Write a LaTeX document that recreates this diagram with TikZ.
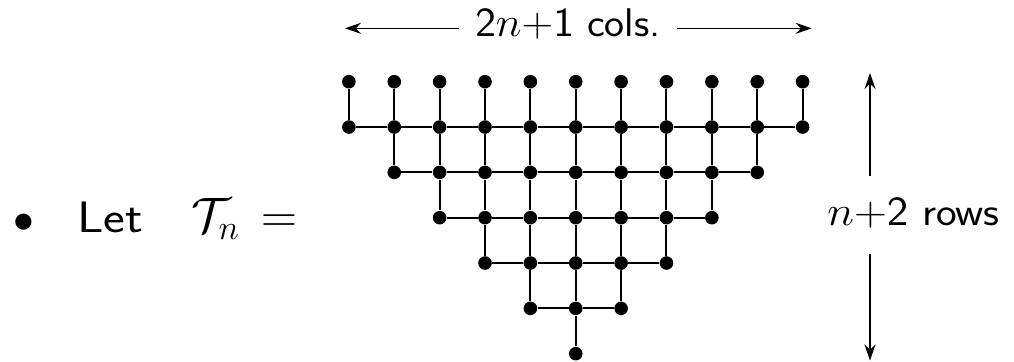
\documentclass[tikz,border=0pt]{standalone}
\usepackage{tikz}
\usetikzlibrary{arrows.meta}
\usetikzlibrary{math}
\usetikzlibrary{calc}

\newcommand{\wider}[2]{\scalebox{#1}[1]{#2}}

\tikzset{
  vtx/.style={circle, fill=black, inner sep=0pt, minimum size=6.8pt},
  edge/.style={line width=1pt},
  span/.style={line width=0.65pt, -{Stealth[length=8pt, width=5.5pt, inset=2.6pt]}},
  lbl/.style={font=\sffamily\fontsize{20}{24}\selectfont, inner sep=0pt},
  big/.style={font=\sffamily\fontsize{22}{27}\selectfont, inner sep=0pt},
  bigmath/.style={font=\sffamily\fontsize{24}{29}\selectfont, inner sep=0pt},
}

\begin{document}
\begin{tikzpicture}[x=0.5pt, y=-0.5pt]
\tikzmath{
\dx=45.37; \dy=45.33; \xo=348.9; \yo=81.7;
}
\useasboundingbox (0,0) rectangle (1014,361);

\node[big, anchor=base] (bul) at (24,232) {$\bullet$};
\node[big, anchor=base west] (let) at (77,232) {\wider{1.18}{Let}};
\node[bigmath, anchor=base west] (tn) at (191,232) {$\mathcal{T}_n$};
\node[bigmath, anchor=base west] (eq) at (261,232) {$=$};

\foreach \c in {0,...,10}{
  \node[vtx] (v-0-\c) at (\xo+\c*\dx, \yo) {};
}
\foreach \r in {1,...,6}{
  \pgfmathtruncatemacro{\ca}{\r-1}
  \pgfmathtruncatemacro{\cb}{11-\r}
  \pgfmathtruncatemacro{\p}{\r-1}
  \foreach \c in {\ca,...,\cb}{
    \node[vtx] (v-\r-\c) at (\xo+\c*\dx, \yo+\r*\dy) {};
    \draw[edge] (v-\p-\c) -- (v-\r-\c);
  }
}
\foreach \r in {1,...,5}{
  \pgfmathtruncatemacro{\ca}{\r-1}
  \pgfmathtruncatemacro{\cc}{10-\r}
  \foreach \c in {\ca,...,\cc}{
    \pgfmathtruncatemacro{\d}{\c+1}
    \draw[edge] (v-\r-\c) -- (v-\r-\d);
  }
}

\node[lbl, anchor=base] (cols) at (568,36) {\wider{1.06}{$\mathsf{2}n{+}\mathsf{1}$ cols.}};
\coordinate (cl) at (345,28.3);
\coordinate (cr) at (811.7,28.3);
\draw[span] ([xshift=-8pt]cols.west |- cl) -- (cl);
\draw[span] ([xshift=8pt]cols.east |- cr) -- (cr);

\node[lbl, anchor=base west] (rows) at (827,225) {\wider{1.1}{$n{+}\mathsf{2}$ rows}};
\coordinate (rt) at (870,73);
\coordinate (rb) at (870,360.5);
\draw[span] ([yshift=10.5pt]rows.north -| rt) -- (rt);
\draw[span] ([yshift=-13pt]rows.south -| rb) -- (rb);
\end{tikzpicture}
\end{document}
